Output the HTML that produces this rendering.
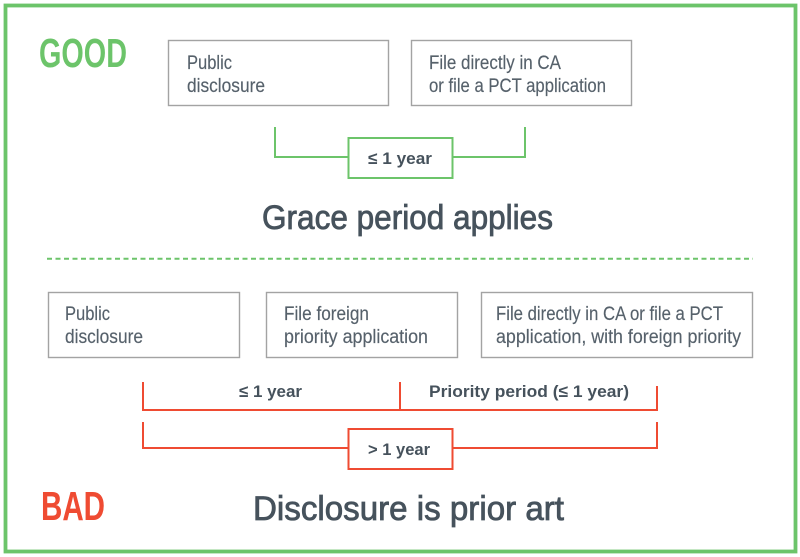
<!DOCTYPE html>
<html><head><meta charset="utf-8"><style>
html,body{margin:0;padding:0;background:#fff;}
svg{display:block;}
text{font-family:"Liberation Sans","DejaVu Sans",sans-serif;}
.bx{fill:#56616b;font-size:19px;stroke:#56616b;stroke-width:0.15;}
.lb{fill:#46525c;font-size:17px;font-weight:bold;}
.tt{fill:#46525c;font-size:34px;stroke:#46525c;stroke-width:0.8;}
</style></head><body>
<svg width="800" height="557" viewBox="0 0 800 557" xmlns="http://www.w3.org/2000/svg">
<rect x="0" y="0" width="800" height="557" fill="#fff"/>
<rect x="5.5" y="5.5" width="790" height="546" fill="none" stroke="#6cc46a" stroke-width="3.8"/>

<!-- GOOD -->
<text x="39" y="67" font-size="41" font-weight="bold" fill="#6cc46a" textLength="88" lengthAdjust="spacingAndGlyphs">GOOD</text>

<!-- top boxes -->
<rect x="168.5" y="40.5" width="220" height="65" fill="#fff" stroke="#a3a3a3" stroke-width="1.4"/>
<text class="bx" x="187" y="69" textLength="45" lengthAdjust="spacingAndGlyphs">Public</text>
<text class="bx" x="187" y="92" textLength="78" lengthAdjust="spacingAndGlyphs">disclosure</text>

<rect x="411.5" y="40.5" width="220" height="65" fill="#fff" stroke="#a3a3a3" stroke-width="1.4"/>
<text class="bx" x="429" y="69" textLength="132" lengthAdjust="spacingAndGlyphs">File directly in CA</text>
<text class="bx" x="429" y="92" textLength="177" lengthAdjust="spacingAndGlyphs">or file a PCT application</text>

<!-- green bracket -->
<polyline points="275,127 275,157 348,157" fill="none" stroke="#6cc46a" stroke-width="2"/>
<polyline points="453,157 525,157 525,127" fill="none" stroke="#6cc46a" stroke-width="2"/>
<rect x="348.5" y="138" width="104" height="40" fill="#fff" stroke="#6cc46a" stroke-width="2"/>
<text class="lb" x="368" y="164" textLength="64" lengthAdjust="spacingAndGlyphs">≤ 1 year</text>

<text class="tt" x="262" y="229" textLength="291" lengthAdjust="spacingAndGlyphs">Grace period applies</text>

<!-- dashed separator -->
<line x1="47" y1="258.7" x2="753" y2="258.7" stroke="#6cc46a" stroke-width="2" stroke-dasharray="5,3.5"/>

<!-- bottom boxes -->
<rect x="48.5" y="292.5" width="191" height="65" fill="#fff" stroke="#a3a3a3" stroke-width="1.4"/>
<text class="bx" x="65" y="320" textLength="45" lengthAdjust="spacingAndGlyphs">Public</text>
<text class="bx" x="65" y="343" textLength="78" lengthAdjust="spacingAndGlyphs">disclosure</text>

<rect x="266.5" y="292.5" width="191" height="65" fill="#fff" stroke="#a3a3a3" stroke-width="1.4"/>
<text class="bx" x="284" y="320" textLength="85" lengthAdjust="spacingAndGlyphs">File foreign</text>
<text class="bx" x="284" y="343" textLength="144" lengthAdjust="spacingAndGlyphs">priority application</text>

<rect x="481.5" y="292.5" width="271" height="65" fill="#fff" stroke="#a3a3a3" stroke-width="1.4"/>
<text class="bx" x="496" y="320" textLength="227" lengthAdjust="spacingAndGlyphs">File directly in CA or file a PCT</text>
<text class="bx" x="496" y="343" textLength="245" lengthAdjust="spacingAndGlyphs">application, with foreign priority</text>

<!-- red brackets -->
<polyline points="143,382 143,410 657,410 657,386" fill="none" stroke="#ef4b32" stroke-width="2"/>
<line x1="400" y1="382" x2="400" y2="410" stroke="#ef4b32" stroke-width="2"/>
<text class="lb" x="239" y="397" textLength="63" lengthAdjust="spacingAndGlyphs">≤ 1 year</text>
<text class="lb" x="429" y="397" textLength="200" lengthAdjust="spacingAndGlyphs">Priority period (≤ 1 year)</text>

<polyline points="143,422 143,448 348,448" fill="none" stroke="#ef4b32" stroke-width="2"/>
<polyline points="453,448 657,448 657,422" fill="none" stroke="#ef4b32" stroke-width="2"/>
<rect x="348.5" y="429" width="104" height="40" fill="#fff" stroke="#ef4b32" stroke-width="2"/>
<text class="lb" x="368" y="455" textLength="62" lengthAdjust="spacingAndGlyphs">&gt; 1 year</text>

<!-- BAD -->
<text x="41" y="520" font-size="41" font-weight="bold" fill="#ef4b32" textLength="64" lengthAdjust="spacingAndGlyphs">BAD</text>
<text class="tt" x="253" y="520" textLength="311" lengthAdjust="spacingAndGlyphs">Disclosure is prior art</text>
</svg>
</body></html>
